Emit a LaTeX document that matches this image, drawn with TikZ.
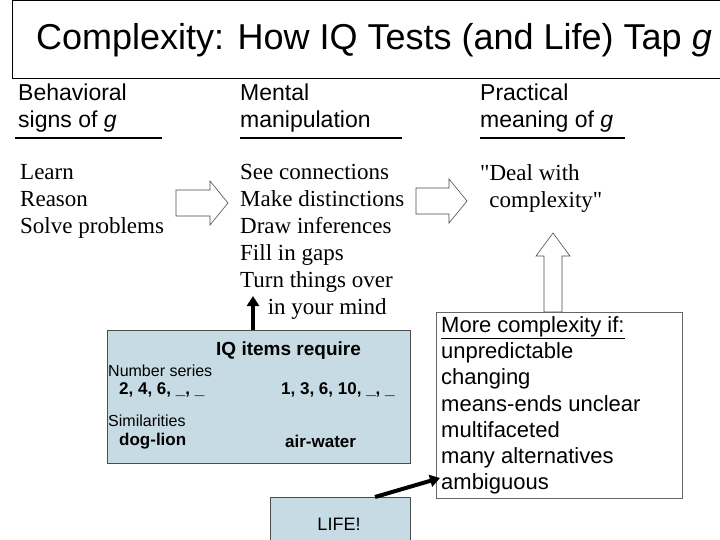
\documentclass[tikz,border=0pt]{standalone}
\usepackage{fontspec}
\setmainfont{Liberation Serif}
\setsansfont{Liberation Sans}
\usetikzlibrary{arrows.meta}
\begin{document}
\begin{tikzpicture}[x=1pt,y=-1pt,
  hdr/.style={font=\sffamily\fontsize{23}{27}\selectfont,align=left,anchor=north west,inner sep=0},
  body/.style={font=\fontsize{23}{27}\selectfont,align=left,anchor=north west,inner sep=0},
  bluebox/.style={draw=black!70,fill=cyan!8!teal!25!white,line width=0.8pt},
  hollow/.style={draw=black!70,fill=white,line width=0.6pt},
  small/.style={font=\sffamily\fontsize{16}{18}\selectfont,anchor=west,inner sep=0},
  bold/.style={font=\sffamily\bfseries\fontsize{19}{20}\selectfont,anchor=west,inner sep=0},
  item/.style={font=\sffamily\bfseries\fontsize{17}{20}\selectfont,anchor=west,inner sep=0}]
\useasboundingbox (0,0) rectangle (720,540);
\fill[white] (0,0) rectangle (720,540);
% title
\node[draw=black,line width=0.8pt,minimum width=708pt,minimum height=78pt,anchor=north west,inner sep=0] (title) at (12,0) {};
\node[font=\sffamily\fontsize{36}{38}\selectfont] (tt) at (374,40) {Complexity: How IQ Tests (and Life) Tap \textit{g}};
% headers
\node[hdr] (h1) at (18,84) {Behavioral\\signs of \textit{g}};
\node[hdr] (h2) at (240,84) {Mental\\manipulation};
\node[hdr] (h3) at (480,84) {Practical\\meaning of \textit{g}};
\draw[line width=1.5pt] (15,138) -- (162,138);
\draw[line width=1.5pt] (240,138) -- (402,138);
\draw[line width=1.5pt] (480,138) -- (625,138);
% bodies
\node[body] (b1) at (20,164) {Learn\\Reason\\Solve problems};
\node[body] (b2) at (240,164) {See connections\\Make distinctions\\Draw inferences\\Fill in gaps\\Turn things over\\\hspace{1.2em}in your mind};
\node[body] (b3) at (480,164) {\textquotedbl Deal with\\\hspace{0.4em}complexity\textquotedbl};
% hollow right arrows
\draw[hollow] (176,190) -- (210,190) -- (210,181) -- (228,203) -- (210,225) -- (210,216) -- (176,216) -- cycle;
\draw[hollow] (416,188) -- (449,188) -- (449,179) -- (467,201) -- (449,223) -- (449,214) -- (416,214) -- cycle;
% IQ box
\node[bluebox,minimum width=303pt,minimum height=133pt,anchor=north west,inner sep=0] (iq) at (107,330) {};
\node[bold] (iqt) at (216,351) {IQ items require};
\node[small] (ns) at (108,371) {Number series};
\node[item] (s1) at (119,390) {2, 4, 6, \_, \_};
\node[item] (s2) at (281,390) {1, 3, 6, 10, \_, \_};
\node[small] (sim) at (108,421) {Similarities};
\node[item] (d1) at (119,441) {dog-lion};
\node[item] (d2) at (285,441) {air-water};
% LIFE box
\node[bluebox,minimum width=140pt,minimum height=50pt,anchor=north west,inner sep=0] (life) at (270,497) {};
\node[font=\sffamily\fontsize{18}{20}\selectfont] (lt) at (339,524) {LIFE!};
% complexity box
\node[draw=black!60,fill=white,line width=0.8pt,minimum width=246pt,minimum height=186pt,anchor=north west,inner sep=0] (cx) at (436,312) {};
\node[font=\sffamily\fontsize{22}{26.3}\selectfont,align=left,anchor=north west,inner sep=0] (cxt) at (441,316) {\underline{More complexity if:}\\unpredictable\\changing\\means-ends unclear\\multifaceted\\many alternatives\\ambiguous};
% hollow up arrow
\draw[hollow] (544,312) -- (544,256) -- (536,256) -- (553,233) -- (570,256) -- (562,256) -- (562,312) -- cycle;
% black arrows
\coordinate (ua) at (253,296);
\draw[line width=4pt,-{Triangle[length=10pt,width=12pt]}] (iq.north -| ua) -- (ua);
\coordinate (la) at (440,478);
\draw[line width=4pt,-{Triangle[length=10pt,width=12pt]}] (375,497) -- (la);
\end{tikzpicture}
\end{document}
